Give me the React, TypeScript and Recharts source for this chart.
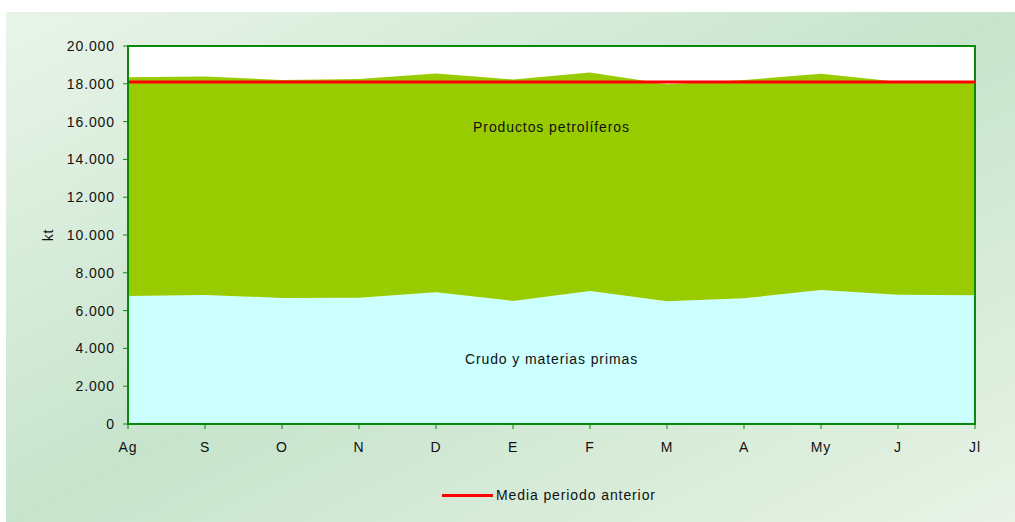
import {
  Area,
  AreaChart,
  CartesianGrid,
  Line,
  ReferenceArea,
  XAxis,
  YAxis,
} from "recharts";

const months = ["Ag", "S", "O", "N", "D", "E", "F", "M", "A", "My", "J", "Jl"];
const crudo = [6770, 6830, 6670, 6680, 6970, 6510, 7040, 6490, 6650, 7090, 6840, 6810];
const productos = [11580, 11550, 11530, 11570, 11580, 11720, 11560, 11480, 11550, 11440, 11270, 11290];
const mediaAnterior = [18100, 18100, 18100, 18100, 18100, 18100, 18100, 18100, 18100, 18100, 18100, 18100];
const yTicks = [0, 2000, 4000, 6000, 8000, 10000, 12000, 14000, 16000, 18000, 20000];

const data = months.map((month, i) => ({
  month,
  crudo: crudo[i],
  productos: productos[i],
  media: mediaAnterior[i],
}));

const font = "'Liberation Sans', Arial, sans-serif";
const textStyle = { fontFamily: font, fontSize: 14, fill: "#111", letterSpacing: "0.9px" };
const green = "#0a8a0a";

function formatThousands(value: number) {
  return value.toLocaleString("de-DE");
}

export default function App() {
  return (
    <div
      style={{
        position: "absolute",
        left: 0,
        top: 0,
        width: 1015,
        height: 522,
        background: "#fff",
        overflow: "hidden",
        fontFamily: font,
      }}
    >
      <div
        style={{
          position: "absolute",
          left: 6,
          top: 12,
          width: 1009,
          height: 510,
          background: "linear-gradient(to bottom right, #e9f4e9 0%, #c7e4cc 50%, #e8f3e6 100%)",
        }}
      />
      <div style={{ position: "absolute", left: 0, top: 0 }}>
        <AreaChart
          width={1015}
          height={522}
          data={data}
          margin={{ top: 46, right: 40, bottom: 68, left: 28 }}
        >
          <CartesianGrid horizontal={false} vertical={false} fill="#ffffff" />
          <XAxis
            dataKey="month"
            height={30}
            interval={0}
            tickSize={5}
            tickMargin={13}
            axisLine={{ stroke: green, strokeWidth: 2 }}
            tickLine={{ stroke: green }}
            tick={textStyle}
          />
          <YAxis
            width={100}
            domain={[0, 20000]}
            ticks={yTicks}
            interval={0}
            tickSize={5}
            tickMargin={8}
            tickFormatter={formatThousands}
            axisLine={{ stroke: green, strokeWidth: 2 }}
            tickLine={{ stroke: green }}
            tick={textStyle}
            label={{
              value: "kt",
              angle: -90,
              position: "insideLeft",
              offset: 20,
              style: { ...textStyle, textAnchor: "middle" },
            }}
          />
          <Area
            type="linear"
            dataKey="crudo"
            stackId="1"
            stroke="none"
            fill="#ccffff"
            fillOpacity={1}
            isAnimationActive={false}
          />
          <Area
            type="linear"
            dataKey="productos"
            stackId="1"
            stroke="none"
            fill="#99cc00"
            fillOpacity={1}
            isAnimationActive={false}
          />
          <ReferenceArea
            x1="Ag"
            x2="Jl"
            y1={0}
            y2={20000}
            fill="none"
            stroke={green}
            strokeWidth={2}
            fillOpacity={0}
            ifOverflow="visible"
          />
          <ReferenceArea
            x1="D"
            x2="M"
            y1={15500}
            y2={15900}
            fill="none"
            fillOpacity={0}
            stroke="none"
            label={{ value: "Productos petrolíferos", position: "center", style: textStyle }}
          />
          <ReferenceArea
            x1="D"
            x2="M"
            y1={3250}
            y2={3650}
            fill="none"
            fillOpacity={0}
            stroke="none"
            label={{ value: "Crudo y materias primas", position: "center", style: textStyle }}
          />
          <Line
            type="linear"
            dataKey="media"
            stroke="#ff0000"
            strokeWidth={3}
            dot={false}
            activeDot={false}
            isAnimationActive={false}
          />
        </AreaChart>
      </div>
      <div
        style={{
          position: "absolute",
          left: 442,
          top: 485,
          height: 20,
          display: "flex",
          alignItems: "center",
          fontSize: 14,
          letterSpacing: "0.9px",
          color: "#111",
        }}
      >
        <span style={{ display: "inline-block", width: 51, height: 3, background: "#ff0000", marginRight: 3 }} />
        <span>Media periodo anterior</span>
      </div>
    </div>
  );
}
